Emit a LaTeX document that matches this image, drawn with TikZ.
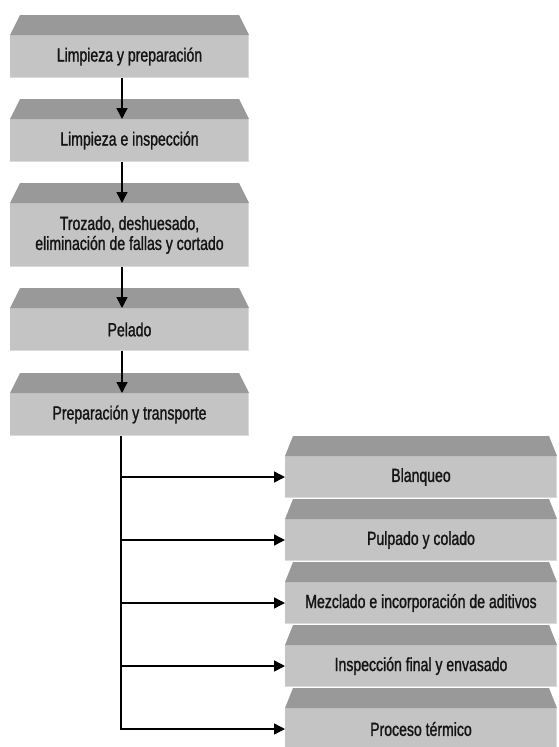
\documentclass[tikz,border=0pt]{standalone}
\usepackage{fontspec}
\setmainfont[FakeStretch=0.74,FakeBold=1.2]{Liberation Sans}
\usetikzlibrary{arrows.meta}
\definecolor{topc}{HTML}{999999}
\definecolor{frontc}{HTML}{C4C4C4}
\definecolor{edgec}{HTML}{DADADA}
\definecolor{txtc}{HTML}{141414}
\tikzset{
  front/.style={fill=frontc, draw=none, inner sep=0pt, outer sep=0pt, anchor=north west,
    text=txtc, align=center, font=\fontsize{19}{20}\selectfont},
  lbox/.style={front, minimum width=239pt, minimum height=43pt},
  rbox/.style={front, minimum width=272pt, minimum height=42pt},
  arr/.style={line width=1.5pt, -{Triangle[length=11pt,width=11pt]}},
  trunkline/.style={line width=1.5pt}
}
\newcommand{\topface}[2]{%
  \fill[topc] (#1.north west) -- ([xshift=#2,yshift=20pt]#1.north west)
    -- ([xshift=-#2,yshift=20pt]#1.north east) -- (#1.north east) -- cycle;
  \draw[edgec, line width=1pt] ([xshift=-0.5pt]#1.north east) -- ([xshift=-0.5pt,yshift=0.5pt]#1.south east)
    -- ([yshift=0.5pt]#1.south west);}
\begin{document}
\begin{tikzpicture}[x=1pt,y=-1pt]
\useasboundingbox (0,0) rectangle (558,747);
\clip (0,0) rectangle (558,747);
% left column
\node[lbox] (b1) at (10,35) {Limpieza y preparación};
\node[lbox] (b2) at (10,119) {Limpieza e inspección};
\node[lbox, minimum height=64pt] (b3) at (10,203) {Trozado, deshuesado,\\eliminación de fallas y cortado};
\node[lbox] (b4) at (10,308) {Pelado};
\node[lbox] (b5) at (10,393) {Preparación y transporte};
\foreach \n in {b1,b2,b3,b4,b5} {\topface{\n}{10pt}}
% right column
\node[rbox] (r1) at (285,456) {Blanqueo};
\node[rbox] (r2) at (285,519) {Pulpado y colado};
\node[rbox] (r3) at (285,582) {Mezclado e incorporación de aditivos};
\node[rbox] (r4) at (285,645) {Inspección final y envasado};
\node[rbox] (r5) at (285,708) {Proceso térmico};
\foreach \n in {r1,r2,r3,r4,r5} {\topface{\n}{8pt}}
% vertical arrows
\draw[arr] ([xshift=-7.5pt]b1.south) -- ([xshift=-7.5pt]b2.north);
\draw[arr] ([xshift=-7.5pt]b2.south) -- ([xshift=-7.5pt]b3.north);
\draw[arr] ([xshift=-7.5pt]b3.south) -- ([xshift=-7.5pt]b4.north);
\draw[arr] ([xshift=-7.5pt]b4.south) -- ([xshift=-7.5pt]b5.north);
% trunk
\coordinate (tr) at ([xshift=-8.5pt]b5.south);
\draw[trunkline] (tr) -- (tr |- r5.west);
\foreach \n in {r1,r2,r3,r4,r5} {\draw[arr] ([xshift=-0.75pt]tr |- \n.west) -- (\n.west);}
\end{tikzpicture}
\end{document}
